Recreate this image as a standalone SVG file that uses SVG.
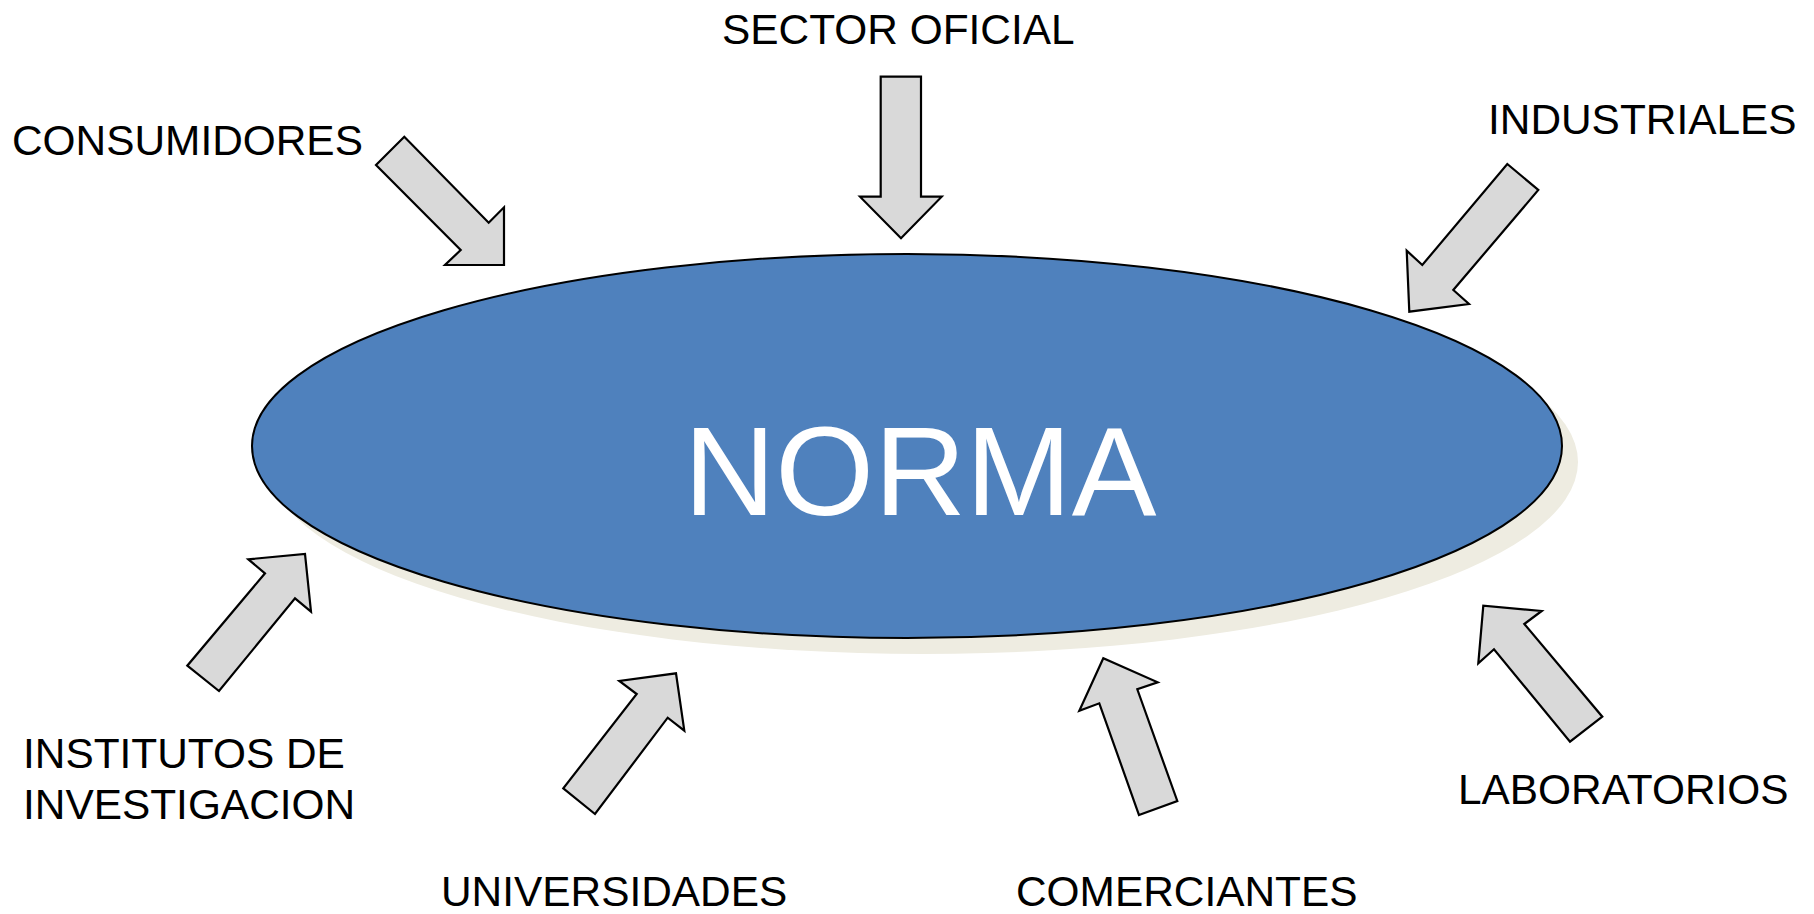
<svg xmlns="http://www.w3.org/2000/svg" width="1814" height="914" viewBox="0 0 1814 914">
<style>
.lbl{font-family:"Liberation Sans",Arial,sans-serif;font-size:42.4px;fill:#000}
.arr{fill:#D9D9D9;stroke:#000;stroke-width:2.2;stroke-linejoin:miter}
</style>
<rect width="1814" height="914" fill="#fff"/>
<g id="norma">
<ellipse cx="923" cy="462" rx="655" ry="192" fill="#EEECE1"/>
<ellipse cx="907" cy="446" rx="655" ry="192" fill="#4F81BD" stroke="#000" stroke-width="2"/>
<text x="920" y="515" text-anchor="middle" font-family="'Liberation Sans',Arial,sans-serif" font-size="127" fill="#fff">NORMA</text>
</g>
<g id="connectors">
<polygon class="arr" points="376,165 404.3,136.7 488.7,222.7 504,207.3 504,265 445,265 460.7,250"/>
<polygon class="arr" points="880.7,76.7 921,76.7 921,196.7 941.7,196.7 901,238.3 860,196.7 880.7,196.7"/>
<polygon class="arr" points="1507.3,164 1538.3,190 1453.3,290 1469,304 1409.3,311.7 1406.7,250.7 1422.3,265"/>
<polygon class="arr" points="187.3,665.7 219,691 295,598.3 311,611.7 305,554 248.3,559.3 265,573.3"/>
<polygon class="arr" points="563.3,788.3 595,814 667.7,717.7 684.3,730.7 676,673.3 619.3,681 636.7,694"/>
<polygon class="arr" points="1139,815 1177.3,801 1137.3,689.3 1157.7,682.3 1103.3,658.3 1079.3,710.7 1099.3,703.3"/>
<polygon class="arr" points="1602.3,716.7 1570,741.7 1494,649.3 1478.3,663.3 1483.3,605.7 1541.7,611 1524.3,624"/>
</g>
<g id="sector-oficial"><text class="lbl" x="722" y="44">SECTOR OFICIAL</text></g>
<g id="consumidores"><text class="lbl" x="12" y="155">CONSUMIDORES</text></g>
<g id="industriales"><text class="lbl" x="1488" y="134">INDUSTRIALES</text></g>
<g id="institutos"><text class="lbl" x="23" y="768">INSTITUTOS DE</text><text class="lbl" x="23" y="819">INVESTIGACION</text></g>
<g id="universidades"><text class="lbl" x="441" y="906">UNIVERSIDADES</text></g>
<g id="comerciantes"><text class="lbl" x="1016" y="906">COMERCIANTES</text></g>
<g id="laboratorios"><text class="lbl" x="1458" y="804">LABORATORIOS</text></g>
</svg>
